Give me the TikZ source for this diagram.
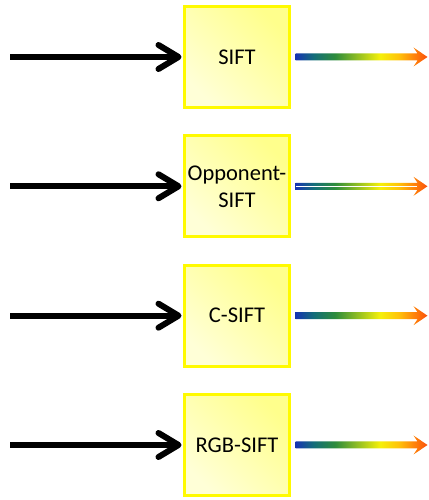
\documentclass[tikz,border=0pt]{standalone}
\usepackage{fontspec}
\setmainfont{Carlito}
\usetikzlibrary{arrows.meta,calc}
\definecolor{gblue}{RGB}{22,52,178}
\definecolor{gteal}{RGB}{20,110,120}
\definecolor{ggreen}{RGB}{45,140,60}
\definecolor{gyellow}{RGB}{245,240,10}
\definecolor{gamber}{RGB}{255,195,10}
\definecolor{gorange}{RGB}{255,130,10}
\definecolor{gred}{RGB}{250,80,10}
\definecolor{boxtop}{RGB}{255,255,140}
\definecolor{boxbot}{RGB}{255,255,215}
\definecolor{boxline}{RGB}{255,250,0}
\pgfdeclarehorizontalshading{rainarrow}{100bp}{color(0bp)=(gblue); color(25bp)=(gblue); color(32bp)=(gteal); color(40bp)=(ggreen); color(57bp)=(gyellow); color(64bp)=(gamber); color(70bp)=(gorange); color(75bp)=(gred); color(100bp)=(gred)}
\begin{document}
\begin{tikzpicture}[x=1pt,y=1pt,
  box/.style={draw=boxline, line width=3pt, minimum width=105pt, minimum height=101pt,
    inner sep=0pt, align=center, top color=boxtop, bottom color=boxbot, shading angle=-45,
    font=\fontsize{22.5}{27}\selectfont},
  inarrow/.style={line width=6pt, -{Straight Barb[round,length=20pt,width=24pt]}, shorten >=1.5pt}]
\useasboundingbox (0,0) rectangle (428,500);
\node[box] (b1) at (237,443) {SIFT};
\node[box] (b2) at (237,313.7) {Opponent-\\SIFT};
\node[box] (b3) at (237,184.3) {C-SIFT};
\node[box] (b4) at (237,55) {RGB-SIFT};
\foreach \i/\yy in {1/443,2/313.7,3/184.3,4/55}{
  \coordinate (s\i) at (10,\yy);
  \coordinate (o\i) at (427.5,\yy);
  \draw[inarrow] (s\i) -- (b\i.west);
  \shade[shading=rainarrow] ($(b\i.east)+(4.5,3.5)$) -- ($(o\i)+(-10,3.5)$) -- ($(o\i)+(-14,9.5)$) -- (o\i) -- ($(o\i)+(-14,-9.5)$) -- ($(o\i)+(-10,-3.5)$) -- ($(b\i.east)+(4.5,-3.5)$) -- cycle;
}
\draw[white, line width=1.3pt] ($(b2.east)+(4.5,0)$) -- ($(o2)+(-11,0)$);
\end{tikzpicture}
\end{document}
